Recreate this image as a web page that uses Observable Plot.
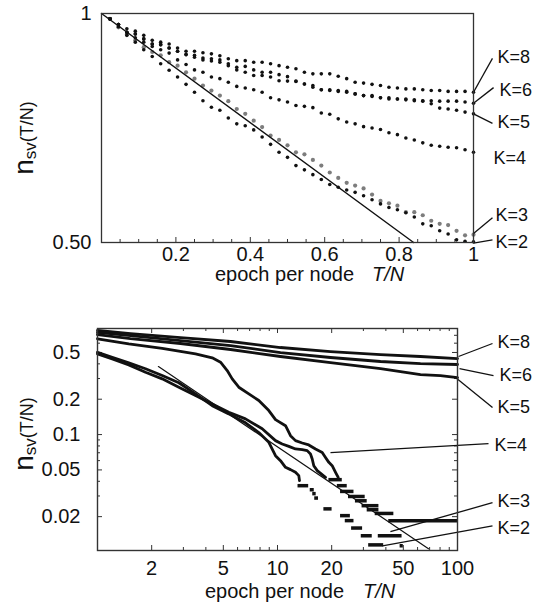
<!DOCTYPE html>
<html><head><meta charset="utf-8">
<script src="https://cdn.jsdelivr.net/npm/d3@7"></script>
<script src="https://cdn.jsdelivr.net/npm/@observablehq/plot@0.6"></script>
<style>
html,body{margin:0;padding:0;background:#fff;}
#chart svg{display:block;}
</style></head><body><div id="chart"></div>
<script>
// ---------- top panel data (epoch per node T/N, n_sv) ----------
const epochTop = [0.0227,0.0455,0.0682,0.0909,0.1136,0.1364,0.1591,0.1818,0.2045,0.2273,0.25,0.2727,0.2955,0.3182,0.3409,0.3636,0.3864,0.4091,0.4318,0.4545,0.4773,0.5,0.5227,0.5455,0.5682,0.5909,0.6136,0.6364,0.6591,0.6818,0.7045,0.7273,0.75,0.7727,0.7955,0.8182,0.8409,0.8636,0.8864,0.9091,0.9318,0.9545,0.9773,1.0];
const topK8 = [0.984,0.967,0.955,0.948,0.936,0.922,0.917,0.912,0.901,0.892,0.892,0.888,0.885,0.880,0.872,0.867,0.867,0.863,0.863,0.859,0.854,0.850,0.846,0.837,0.833,0.833,0.833,0.827,0.821,0.812,0.810,0.807,0.804,0.800,0.798,0.796,0.796,0.794,0.792,0.792,0.790,0.790,0.790,0.788];
const topK6 = [0.984,0.967,0.945,0.940,0.926,0.912,0.910,0.901,0.892,0.883,0.881,0.874,0.872,0.869,0.859,0.850,0.852,0.843,0.837,0.837,0.831,0.826,0.815,0.808,0.804,0.794,0.794,0.792,0.790,0.784,0.780,0.780,0.775,0.775,0.772,0.772,0.770,0.768,0.768,0.767,0.767,0.767,0.765,0.762];
const topK5 = [0.984,0.967,0.945,0.940,0.926,0.912,0.910,0.901,0.892,0.883,0.876,0.869,0.866,0.863,0.854,0.843,0.837,0.829,0.829,0.825,0.816,0.815,0.814,0.808,0.800,0.794,0.792,0.790,0.788,0.784,0.780,0.778,0.775,0.772,0.772,0.770,0.768,0.767,0.761,0.751,0.749,0.746,0.742,0.738];
const topK4 = [0.984,0.967,0.945,0.929,0.917,0.905,0.896,0.887,0.869,0.857,0.843,0.837,0.825,0.821,0.812,0.802,0.798,0.794,0.788,0.775,0.770,0.765,0.757,0.755,0.752,0.740,0.737,0.727,0.720,0.716,0.710,0.707,0.704,0.697,0.693,0.686,0.682,0.676,0.671,0.669,0.667,0.666,0.662,0.657];
const topK3 = [0.984,0.959,0.938,0.922,0.903,0.890,0.881,0.863,0.854,0.837,0.821,0.804,0.792,0.780,0.767,0.749,0.738,0.723,0.709,0.691,0.682,0.671,0.657,0.653,0.642,0.631,0.618,0.608,0.599,0.594,0.589,0.578,0.567,0.563,0.559,0.548,0.548,0.543,0.534,0.529,0.527,0.518,0.511,0.512];
const topK2 = [0.984,0.961,0.936,0.917,0.896,0.878,0.859,0.842,0.825,0.807,0.788,0.768,0.753,0.746,0.729,0.716,0.712,0.703,0.688,0.673,0.657,0.647,0.631,0.623,0.614,0.605,0.596,0.591,0.586,0.582,0.576,0.569,0.562,0.556,0.552,0.547,0.540,0.529,0.526,0.518,0.513,0.504,0.502,0.501];
const theoryTopT = [0, 0.839];
const theoryTopN = [1, 0.5];
const topTickLabels = [0.2, 0.4, 0.6, 0.8, 1];
const topTicksMajor = [0.2, 0.4, 0.6, 0.8];
const topTicksMinor = [0.05,0.1,0.15,0.25,0.3,0.35,0.45,0.5,0.55,0.65,0.7,0.75,0.85,0.9,0.95];
const topYTicks = [0.5, 1];
const topLabelK = ["K=8","K=6","K=5","K=4","K=3","K=2"];
const topLabelT = [1.0645, 1.070, 1.0645, 1.054, 1.059, 1.059];
const topLabelN = [0.875, 0.792, 0.719, 0.645, 0.543, 0.500];
const topLeadT1 = [1, 1, 1, 1, 1];
const topLeadN1 = [0.788, 0.762, 0.738, 0.514, 0.499];
const topLeadT2 = [1.051, 1.054, 1.051, 1.051, 1.051];
const topLeadN2 = [0.873, 0.799, 0.717, 0.539, 0.504];

// ---------- bottom panel data (log-log) ----------
const k8T = [1, 1.525, 2.891, 5.482, 10.39, 19.70, 37.35, 62.3, 100];
const k8N = [0.769, 0.725, 0.670, 0.620, 0.551, 0.509, 0.480, 0.462, 0.444];
const k6T = [1, 1.525, 2.891, 5.482, 10.39, 19.70, 37.35, 62.3, 100];
const k6N = [0.740, 0.697, 0.632, 0.573, 0.499, 0.453, 0.419, 0.402, 0.395];
const k5T = [1, 1.525, 2.891, 5.482, 10.39, 19.70, 37.35, 62.3, 80.4, 100];
const k5N = [0.711, 0.657, 0.596, 0.530, 0.462, 0.410, 0.365, 0.324, 0.318, 0.306];
const k4T = [1, 1.492, 2.288, 3.503, 4.338, 4.825, 5.255, 5.602, 6.095, 6.928, 7.873, 8.948, 9.747, 11.08, 11.81, 12.59, 13.72, 14.92, 16.26, 17.72, 18.48, 19.28, 20.13, 21.01, 21.74];
const k4N = [0.654, 0.592, 0.543, 0.487, 0.450, 0.413, 0.351, 0.298, 0.253, 0.222, 0.195, 0.160, 0.134, 0.119, 0.0979, 0.0888, 0.0848, 0.0816, 0.0754, 0.0705, 0.0639, 0.0580, 0.0543, 0.0477, 0.0432];
const k3T = [1, 1.207, 1.492, 1.848, 2.288, 2.829, 3.503, 4.338, 5.363, 6.640, 8.222, 9.747, 10.62, 11.56, 12.59, 13.72, 14.62, 15.25, 15.59, 15.91, 16.62, 18.48];
const k3N = [0.487, 0.441, 0.392, 0.339, 0.298, 0.253, 0.215, 0.182, 0.155, 0.136, 0.112, 0.0888, 0.0832, 0.0794, 0.0754, 0.0744, 0.0730, 0.0684, 0.0620, 0.0543, 0.0493, 0.0432];
const k2T = [1, 1.207, 1.492, 1.848, 2.288, 2.829, 3.503, 4.338, 5.363, 6.640, 7.873, 8.948, 9.747, 10.39, 11.08, 11.81, 12.59, 13.13, 13.25];
const k2N = [0.502, 0.455, 0.408, 0.363, 0.318, 0.276, 0.222, 0.176, 0.150, 0.126, 0.104, 0.0859, 0.0661, 0.0599, 0.0526, 0.0503, 0.0477, 0.0447, 0.0405];
// quantized tails (horizontal runs): start, end, level
const dashT1 = [13.0, 15.2, 15.7, 16.1, 18.1, 22.4, 23.8, 25.8, 29.2, 32.1, 19.3, 21.5, 22.4, 24.8, 27.1, 29.5, 31.5, 34.9, 36.3, 48, 41.5];
const dashT2 = [14.9, 16.0, 16.4, 16.9, 20.1, 25.4, 26.6, 29.7, 33.6, 38.9, 22.9, 24.4, 26.6, 30.7, 31.5, 36.6, 36.6, 44.3, 49.2, 50, 100];
const dashN  = [0.0367, 0.0339, 0.0314, 0.0288, 0.0233, 0.0204, 0.0185, 0.0160, 0.01375, 0.0115, 0.0413, 0.0367, 0.0328, 0.0297, 0.0273, 0.0248, 0.0229, 0.0213, 0.01375, 0.0113, 0.0185];
const theoryBotT = [2.18, 69];
const theoryBotN = [0.379, 0.01066];
const botXTickLabels = [2, 5, 10, 20, 50, 100];
const botXTicksMajor = [2, 5, 10, 20, 50];
const botXTicksMinor = [3, 4, 6, 7, 8, 9, 30, 40, 60, 70, 80, 90];
const botYTickLabels = [0.02, 0.05, 0.1, 0.2, 0.5];
const botYTicksMinor = [0.03, 0.04, 0.06, 0.07, 0.08, 0.09, 0.3, 0.4, 0.6, 0.7];
const botLabelK = ["K=8","K=6","K=5","K=4","K=3","K=2"];
const botLabelT = [166.8, 171.1, 166.8, 160.6, 166.8, 166.8];
const botLabelN = [0.608, 0.318, 0.170, 0.0805, 0.0268, 0.0158];
const botLeadT1 = [101.3, 102.6, 97.5, 19.7, 42.4, 38.3];
const botLeadN1 = [0.462, 0.365, 0.306, 0.0701, 0.0149, 0.0113];
const botLeadT2 = [156.5, 158.5, 156.5, 148.7, 156.5, 156.5];
const botLeadN2 = [0.596, 0.318, 0.170, 0.0837, 0.0263, 0.0167];

// ---------- rendering ----------
const FONT = "'Liberation Sans', Arial, Helvetica, sans-serif";
const INK = "#111";
const FRAME = "#333";

const blackSeries = [topK8, topK6, topK5, topK4, topK2];
const topBlack = blackSeries.flatMap(vals => epochTop.map((t, i) => ({t, n: vals[i]})));
const topGray = epochTop.map((t, i) => ({t, n: topK3[i]}));

const topH = 290, topMT = 13, topMB = 48;
const topPlotH = topH - topMT - topMB;
const topPlot = Plot.plot({
  width: 544, height: topH,
  marginLeft: 101, marginRight: 71, marginTop: topMT, marginBottom: topMB,
  style: {fontFamily: FONT, fontSize: "20px", color: INK, background: "#fff", overflow: "visible"},
  x: {domain: [0, 1]},
  y: {type: "log", domain: [0.5, 1]},
  marks: [
    Plot.tickX(topTicksMinor, {x: d => d, insetTop: topPlotH - 3, stroke: FRAME}),
    Plot.tickX(topTicksMajor, {x: d => d, insetTop: topPlotH - 5, stroke: FRAME}),
    Plot.axisX({ticks: topTickLabels, tickSize: 0, tickPadding: 4, tickFormat: d => d === 1 ? "1" : d.toFixed(1), label: null, fontSize: 20}),
    Plot.axisY({ticks: topYTicks, tickSize: 0, tickPadding: 10, tickFormat: d => d === 1 ? "1" : "0.50", label: null, fontSize: 20}),
    Plot.dot(topGray, {x: "t", y: "n", r: 2.1, fill: "#7d7d7d", stroke: "none"}),
    Plot.dot(topBlack, {x: "t", y: "n", r: 1.8, fill: INK, stroke: "none"}),
    Plot.line(theoryTopT, {x: theoryTopT, y: theoryTopN, stroke: INK, strokeWidth: 1.4}),
    Plot.link(topLeadT1, {x1: topLeadT1, y1: topLeadN1, x2: topLeadT2, y2: topLeadN2, stroke: INK, strokeWidth: 1.3}),
    Plot.text(topLabelK, {x: topLabelT, y: topLabelN, text: topLabelK, textAnchor: "start", fontSize: 18, fill: INK}),
    Plot.frame({stroke: FRAME, strokeWidth: 1.3})
  ]
});

const botH = 318, botMT = 38, botMB = 58, botML = 97, botMR = 87;
const botPlotH = botH - botMT - botMB;
const botPlotW = 544 - botML - botMR;
const lineOpts = {stroke: INK, strokeWidth: 2.8, strokeLinejoin: "round", strokeLinecap: "round"};
const botPlot = Plot.plot({
  width: 544, height: botH,
  marginLeft: botML, marginRight: botMR, marginTop: botMT, marginBottom: botMB,
  style: {fontFamily: FONT, fontSize: "20px", color: INK, background: "#fff", overflow: "visible"},
  x: {type: "log", domain: [1, 100]},
  y: {type: "log", domain: [0.0103, 0.8]},
  marks: [
    Plot.tickX(botXTicksMajor, {x: d => d, insetTop: botPlotH - 5, stroke: FRAME}),
    Plot.tickX(botXTicksMinor, {x: d => d, insetTop: botPlotH - 3, stroke: FRAME}),
    Plot.tickX(botXTicksMajor, {x: d => d, insetBottom: botPlotH - 5, stroke: FRAME}),
    Plot.tickX(botXTicksMinor, {x: d => d, insetBottom: botPlotH - 3, stroke: FRAME}),
    Plot.tickY(botYTickLabels, {y: d => d, insetRight: botPlotW - 5, stroke: FRAME}),
    Plot.tickY(botYTicksMinor, {y: d => d, insetRight: botPlotW - 3, stroke: FRAME}),
    Plot.tickY(botYTickLabels, {y: d => d, insetLeft: botPlotW - 5, stroke: FRAME}),
    Plot.tickY(botYTicksMinor, {y: d => d, insetLeft: botPlotW - 3, stroke: FRAME}),
    Plot.axisX({ticks: botXTickLabels, tickSize: 0, tickPadding: 10, tickFormat: d => String(d), label: null, fontSize: 20}),
    Plot.axisY({ticks: botYTickLabels, tickSize: 0, tickPadding: 17, tickFormat: d => String(d), label: null, fontSize: 20}),
    Plot.line(k8T, {x: k8T, y: k8N, ...lineOpts}),
    Plot.line(k6T, {x: k6T, y: k6N, ...lineOpts}),
    Plot.line(k5T, {x: k5T, y: k5N, ...lineOpts}),
    Plot.line(k4T, {x: k4T, y: k4N, ...lineOpts}),
    Plot.line(k3T, {x: k3T, y: k3N, ...lineOpts}),
    Plot.line(k2T, {x: k2T, y: k2N, ...lineOpts}),
    Plot.ruleY(dashN, {y: dashN, x1: dashT1, x2: dashT2, stroke: INK, strokeWidth: 3.5}),
    Plot.line(theoryBotT, {x: theoryBotT, y: theoryBotN, stroke: INK, strokeWidth: 1.2}),
    Plot.link(botLeadT1, {x1: botLeadT1, y1: botLeadN1, x2: botLeadT2, y2: botLeadN2, stroke: INK, strokeWidth: 1.3}),
    Plot.text(botLabelK, {x: botLabelT, y: botLabelN, text: botLabelK, textAnchor: "start", fontSize: 18, fill: INK}),
    Plot.frame({stroke: FRAME, strokeWidth: 1.4})
  ]
});

function addLabels(svg, xLabelX, italicX, baseline, yCenter) {
  const s = d3.select(svg);
  const xl = s.append("text").attr("font-family", FONT).attr("font-size", 20).attr("fill", INK)
    .attr("text-anchor", "start").attr("x", xLabelX).attr("y", baseline);
  xl.append("tspan").attr("text-anchor", "start").text("epoch per node");
  xl.append("tspan").attr("text-anchor", "start").attr("x", italicX).attr("font-style", "italic").text("T/N");
  const yl = s.append("text").attr("font-family", FONT).attr("fill", INK)
    .attr("text-anchor", "middle").attr("transform", `translate(33,${yCenter}) rotate(-90)`);
  yl.append("tspan").attr("font-size", 28).text("n");
  yl.append("tspan").attr("font-size", 17).attr("dy", 3).text("sv");
  yl.append("tspan").attr("font-size", 18).attr("dy", -3).text("(T/N)");
}
addLabels(topPlot, 215, 372, 281, 138);
addLabels(botPlot, 205, 363, 308, 144);

const root = document.getElementById("chart");
root.append(topPlot);
root.append(botPlot);
</script></body></html>
